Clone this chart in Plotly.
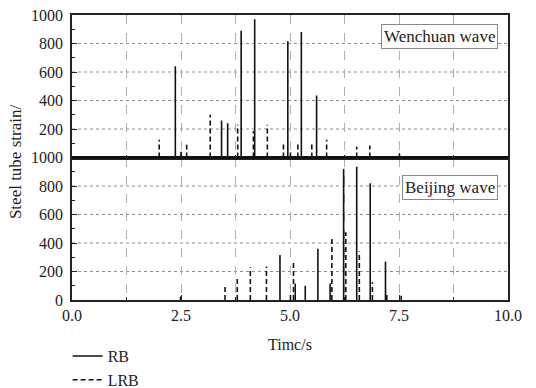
import plotly.graph_objects as go

# ---- data ----
wen_rb_t = [2.37, 2.50, 3.43, 3.57, 3.88, 4.19, 4.95, 5.01, 5.26, 5.61, 7.51]
wen_rb_v = [640, 40, 260, 240, 890, 970, 815, 35, 880, 435, 25]
wen_lrb_t = [2.00, 2.63, 3.17, 3.80, 4.16, 4.48, 4.85, 5.18, 5.50, 5.84, 6.53, 6.83]
wen_lrb_v = [125, 90, 300, 230, 185, 230, 110, 105, 100, 125, 75, 85]

bj_rb_t = [2.49, 4.77, 5.01, 5.12, 5.35, 5.64, 5.92, 6.23, 6.53, 6.84, 7.19, 7.55]
bj_rb_v = [25, 315, 35, 115, 100, 360, 115, 920, 935, 820, 270, 30]
bj_lrb_t = [3.51, 3.79, 4.09, 4.46, 5.08, 5.96, 6.28, 6.59, 6.89, 7.22]
bj_lrb_v = [100, 165, 230, 235, 260, 450, 475, 340, 125, 50]

x_ticks = [0, 2.5, 5, 7.5, 10]
x_minor = [1.25, 3.75, 6.25, 8.75]
y_ticks_top = [200, 400, 600, 800, 1000]
y_ticks_bottom = [0, 200, 400, 600, 800, 1000]
y_grid = [200, 400, 600, 800]

FONT = "Liberation Serif"
GRID = "#b0b0b0"
HGRID = "#8c8c8c"


def spikes(ts, vs):
    xs, ys = [], []
    for t, v in zip(ts, vs):
        xs += [t, t, None]
        ys += [0, v, None]
    return xs, ys


fig = go.Figure()

for (ts, vs, name, dash, xa, ya, show) in [
    (wen_rb_t, wen_rb_v, "RB", "solid", "x2", "y2", True),
    (wen_lrb_t, wen_lrb_v, "LRB", "5px,3px", "x2", "y2", True),
    (bj_rb_t, bj_rb_v, "RB", "solid", "x", "y", False),
    (bj_lrb_t, bj_lrb_v, "LRB", "5px,3px", "x", "y", False),
]:
    xs, ys = spikes(ts, vs)
    fig.add_trace(go.Scatter(
        x=xs, y=ys, mode="lines", name=name, showlegend=show,
        line=dict(color="#111111", width=1.6, dash=dash),
        xaxis=xa, yaxis=ya, connectgaps=False,
    ))

xcommon = dict(
    range=[0, 10], tickmode="array", tickvals=x_ticks,
    showline=True, linecolor="#222", linewidth=1.5, mirror=True,
    ticks="inside", ticklen=5, tickcolor="#222",
    showgrid=True, gridcolor=GRID, griddash="dash", gridwidth=1,
    minor=dict(tickmode="array", tickvals=x_minor, showgrid=True,
               gridcolor=GRID, griddash="dash", gridwidth=1,
               ticks="inside", ticklen=3, tickcolor="#222"),
    zeroline=False,
    tickfont=dict(family=FONT, size=16, color="#222"),
)
ycommon = dict(
    range=[0, 1000], tickmode="array",
    showline=True, linecolor="#222", linewidth=1.5, mirror=True,
    ticks="inside", ticklen=5, tickcolor="#222",
    showgrid=False,
    minor=dict(dtick=100, tick0=0, showgrid=False, ticks="inside",
               ticklen=3, tickcolor="#222"),
    zeroline=False,
    tickfont=dict(family=FONT, size=16, color="#222"),
    ticklabelstandoff=4,
)

shapes = [dict(type="line", xref="paper", yref="paper", x0=0, x1=1,
               y0=0.5, y1=0.5, line=dict(color="#111", width=3))]
for yref in ("y", "y2"):
    for g in y_grid:
        shapes.append(dict(type="line", xref="paper", yref=yref, x0=0, x1=1,
                           y0=g, y1=g, layer="below",
                           line=dict(color=HGRID, width=1, dash="3px,3px")))

fig.update_layout(
    width=536, height=388,
    margin=dict(l=72, r=28, t=15, b=88, autoexpand=False),
    paper_bgcolor="white", plot_bgcolor="rgba(0,0,0,0)",
    font=dict(family=FONT, size=16, color="#222"),
    xaxis=dict(domain=[0, 1], anchor="y", tickformat=".1f", layer="below traces", **xcommon),
    xaxis2=dict(domain=[0, 1], anchor="y2", matches="x", showticklabels=False,
                layer="below traces", **xcommon),
    yaxis=dict(domain=[0, 0.5], anchor="x", tickvals=y_ticks_bottom, **ycommon),
    yaxis2=dict(domain=[0.5, 1], anchor="x2", tickvals=y_ticks_top, **ycommon),
    showlegend=True,
    legend=dict(x=-0.01, y=-0.137, xanchor="left", yanchor="top",
                bgcolor="rgba(0,0,0,0)", tracegroupgap=0,
                font=dict(family=FONT, size=16, color="#222")),
    shapes=shapes,
    annotations=[
        dict(text="Timc/s", xref="paper", yref="paper", x=0.5, y=-0.155,
             xanchor="center", yanchor="middle", showarrow=False,
             font=dict(family=FONT, size=16, color="#222")),
        dict(text="Steel tube strain/", xref="paper", yref="paper",
             x=-0.13, y=0.485, xanchor="center", yanchor="middle",
             textangle=-90, showarrow=False,
             font=dict(family=FONT, size=17, color="#222")),
        dict(text="Wenchuan wave", xref="paper", yref="paper",
             x=0.977, y=0.968, xanchor="right", yanchor="top",
             showarrow=False, bgcolor="white", bordercolor="#888",
             borderwidth=1, borderpad=2,
             font=dict(family=FONT, size=17, color="#222")),
        dict(text="Beijing wave", xref="paper", yref="paper",
             x=0.977, y=0.4386, xanchor="right", yanchor="top",
             showarrow=False, bgcolor="white", bordercolor="#888",
             borderwidth=1, borderpad=2,
             font=dict(family=FONT, size=17, color="#222")),
    ],
)

fig.write_html("out.html")
